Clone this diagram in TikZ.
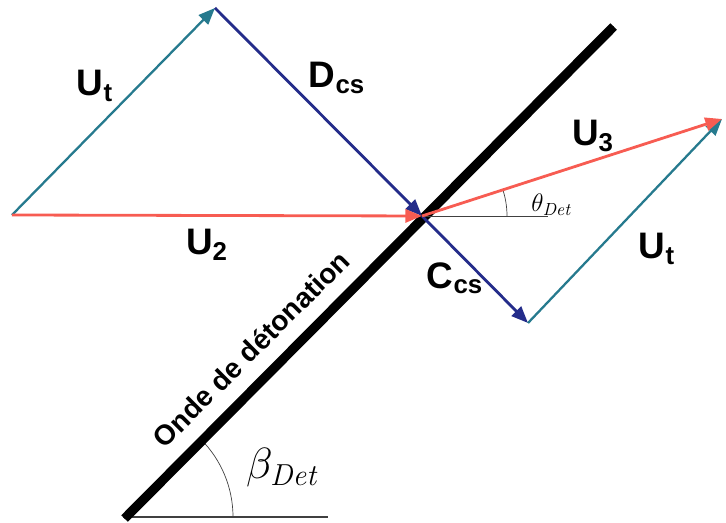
\documentclass[tikz,border=0pt]{standalone}
\usepackage[no-math]{fontspec}
\setmainfont{Liberation Sans}
\usetikzlibrary{arrows.meta}
\definecolor{vred}{RGB}{247,92,82}
\definecolor{vteal}{RGB}{38,122,142}
\definecolor{vblue}{RGB}{36,44,138}
\definecolor{shade}{RGB}{185,180,192}

\begin{document}
\begin{tikzpicture}[x=0.02cm, y=0.02cm,
    vec/.style={line width=1.6pt, -{Triangle[length=9.5pt, width=7.5pt]}},
    lbl/.style={font=\fontsize{21}{24}\selectfont\bfseries},
    ang/.style={thin, black!75},
  ]
  \useasboundingbox (0,0) rectangle (726,523);

  % Points of the velocity triangles
  \coordinate (A) at (12,308);
  \coordinate (T) at (215,515);
  \coordinate (O) at (422,307);
  \coordinate (B) at (528,200);
  \coordinate (E) at (722,404);

  % Detonation front
  \coordinate (Wb) at (123,6);
  \coordinate (Wt) at (612,498);
  \coordinate (Wr) at (328,6);
  \coordinate (Or) at (548,307);

  \draw[ang, line width=0.8pt] (Wb) -- (Wr);
  \draw[ang] ([shift={(0:110)}]Wb) arc (0:45:110);
  \draw[shade, line width=3pt] ([shift={(3,-3)}]Wb) -- ([shift={(3,-3)}]Wt);
  \draw[black, line width=2.8pt] (Wb) -- (Wt);
  \node[font=\fontsize{16}{18}\selectfont\bfseries, rotate=45] (onde)
    at (251,174) {Onde de détonation};
  \node[font=\fontsize{26}{30}\selectfont] (beta) at (283,55)
    {$\beta_{\mathit{Det}}$};

  % Upstream side
  \draw[vec, vteal, line width=1.3pt] (A) -- (T);
  \draw[vec, vblue] (T) -- (O);
  \draw[vec, vred] (A) -- (O);
  \node[lbl] (ut1) at (95,437) {U\textsubscript{t}};
  \node[lbl] (dcs) at (337,445) {D\textsubscript{cs}};
  \node[lbl] (u2) at (207,278) {U\textsubscript{2}};

  % Downstream side
  \draw[ang] (O) -- (Or);
  \draw[ang] ([shift={(0:85)}]O) arc (0:18:85);
  \draw[vec, vblue] (O) -- (B);
  \draw[vec, vteal, line width=1.3pt] (B) -- (E);
  \draw[vec, vred] (O) -- (E);
  \node[lbl] (u3) at (593,387) {U\textsubscript{3}};
  \node[lbl] (ut2) at (657,274) {U\textsubscript{t}};
  \node[lbl] (ccs) at (455,245) {C\textsubscript{cs}};
  \node[font=\fontsize{14}{16}\selectfont] (theta) at (552,318)
    {$\theta_{\mathit{Det}}$};

\end{tikzpicture}
\end{document}
